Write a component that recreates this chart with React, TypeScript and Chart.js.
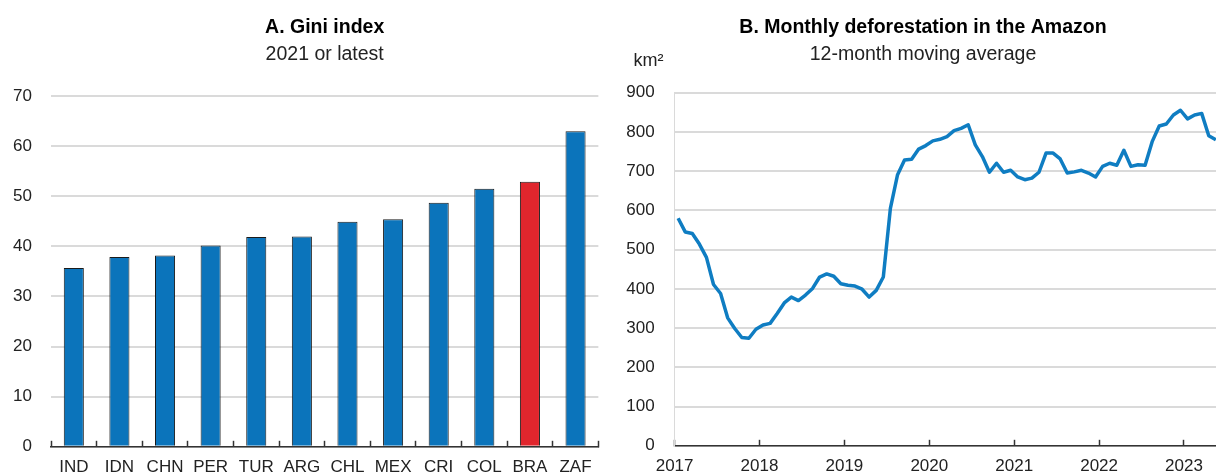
import { useEffect, useRef } from 'react';
import { Chart, registerables } from 'chart.js';

Chart.register(...registerables);

// ---------- Data ----------
const countries = ['IND', 'IDN', 'CHN', 'PER', 'TUR', 'ARG', 'CHL', 'MEX', 'CRI', 'COL', 'BRA', 'ZAF'];
const giniValues = [35.7, 37.9, 38.2, 40.2, 41.9, 42.0, 44.9, 45.4, 48.7, 51.5, 52.9, 63.0];
const highlightCountry = 'BRA';
const giniTicks = [0, 10, 20, 30, 40, 50, 60, 70];

// Monthly, Jan 2017 .. May 2023 (12-month moving average, km²)
const startYear = 2017;
const deforestation = [
  580, 545, 541, 514, 480, 411, 388, 326, 299, 276, 274, 297,
  308, 312, 337, 364, 379, 370, 384, 401, 430, 438, 432, 413,
  409, 407, 399, 379, 396, 430, 605, 690, 728, 730, 756, 765,
  777, 781, 788, 803, 809, 818, 767, 737, 697, 720, 697, 702,
  685, 678, 682, 697, 746, 746, 731, 695, 698, 702, 695, 685,
  712, 720, 715, 753, 712, 716, 715, 775, 815, 820, 843, 855,
  833, 843, 847, 790, 780,
];
const yearTicks = [2017, 2018, 2019, 2020, 2021, 2022, 2023];
const deforTicks = [0, 100, 200, 300, 400, 500, 600, 700, 800, 900];

// ---------- Styles ----------
const FONT = "'Liberation Sans', Arial, sans-serif";
const BLUE = '#0b74bb';
const RED = '#e0262d';
const GRID = '#dadada';
const AXIS = '#333333';
const TEXT = '#222222';
const TITLE_SIZE = 19.5;
const TICK_SIZE = 17;

const unitLabelPlugin = {
  id: 'unitLabel',
  afterDraw(chart: any, _args: any, opts: any) {
    if (!opts || !opts.text) return;
    const { ctx, chartArea } = chart;
    ctx.save();
    ctx.font = `18px ${FONT}`;
    ctx.fillStyle = TEXT;
    ctx.textAlign = 'center';
    ctx.textBaseline = 'middle';
    ctx.fillText(opts.text, chartArea.left + opts.dx, chartArea.top + opts.dy);
    ctx.restore();
  },
};

function GiniChart() {
  const ref = useRef<HTMLCanvasElement | null>(null);
  useEffect(() => {
    if (!ref.current) return;
    const chart = new Chart(ref.current, {
      type: 'bar',
      data: {
        labels: countries,
        datasets: [
          {
            data: giniValues,
            backgroundColor: countries.map((c) => (c === highlightCountry ? RED : BLUE)),
            borderColor: '#1b1b1b',
            borderWidth: 1,
            barPercentage: 0.44,
            categoryPercentage: 1,
          },
        ],
      },
      options: {
        animation: false,
        responsive: true,
        maintainAspectRatio: false,
        layout: { padding: { top: 0, right: 4, left: 0, bottom: 0 } },
        plugins: {
          legend: { display: false },
          tooltip: { enabled: false },
          title: {
            display: true,
            fullSize: false,
            text: 'A. Gini index',
            color: '#000',
            font: { family: FONT, size: TITLE_SIZE, weight: 'bold', lineHeight: 1.2 },
            padding: { top: 15.6, bottom: 2 },
          },
          subtitle: {
            display: true,
            fullSize: false,
            text: '2021 or latest',
            color: TEXT,
            font: { family: FONT, size: TITLE_SIZE, weight: 'normal', lineHeight: 1.2 },
            padding: { top: 2.4, bottom: 29.3 },
          },
        },
        scales: {
          x: {
            grid: {
              display: true,
              drawOnChartArea: false,
              drawTicks: true,
              tickLength: -6,
              tickColor: AXIS,
              tickWidth: 1.5,
              offset: true,
            },
            border: { display: true, color: AXIS, width: 1.5 },
            ticks: { font: { family: FONT, size: TICK_SIZE }, color: TEXT, padding: 16, maxRotation: 0, autoSkip: false },
            afterFit: (s: any) => {
              s.height = 28;
            },
          },
          y: {
            min: 0,
            max: 70,
            afterBuildTicks: (s: any) => {
              s.ticks = giniTicks.map((v) => ({ value: v }));
            },
            ticks: { font: { family: FONT, size: TICK_SIZE }, color: TEXT, padding: 19 },
            grid: { color: GRID, lineWidth: 2, drawTicks: false },
            border: { display: false },
            afterFit: (s: any) => {
              s.width = 51;
            },
          },
        },
      } as any,
    });
    return () => chart.destroy();
  }, []);
  return <canvas ref={ref} />;
}

function DeforestationChart() {
  const ref = useRef<HTMLCanvasElement | null>(null);
  useEffect(() => {
    if (!ref.current) return;
    const points = deforestation.map((v, i) => ({ x: startYear + (i + 0.5) / 12, y: v }));
    const chart = new Chart(ref.current, {
      type: 'line',
      data: {
        datasets: [
          {
            data: points,
            borderColor: '#0f7dc2',
            borderWidth: 3.5,
            pointRadius: 0,
            tension: 0,
            fill: false,
            borderJoinStyle: 'round',
          },
        ],
      },
      options: {
        animation: false,
        responsive: true,
        maintainAspectRatio: false,
        layout: { padding: { top: 0, right: 0, left: 0, bottom: 0 } },
        plugins: {
          legend: { display: false },
          tooltip: { enabled: false },
          title: {
            display: true,
            text: 'B. Monthly deforestation in the Amazon',
            color: '#000',
            font: { family: FONT, size: TITLE_SIZE, weight: 'bold', lineHeight: 1.2 },
            padding: { top: 15.6, bottom: 2 },
          },
          subtitle: {
            display: true,
            text: '12-month moving average',
            color: TEXT,
            font: { family: FONT, size: TITLE_SIZE, weight: 'normal', lineHeight: 1.2 },
            padding: { top: 2.4, bottom: 25.8 },
          },
          unitLabel: { text: 'km²', dx: -26, dy: -32 },
        },
        scales: {
          x: {
            type: 'linear',
            min: 2017,
            max: 2017 + (630 - 66.6) / 84.9,
            afterBuildTicks: (s: any) => {
              s.ticks = yearTicks.map((v) => ({ value: v }));
            },
            grid: {
              display: true,
              drawOnChartArea: false,
              drawTicks: true,
              tickLength: -6,
              tickColor: AXIS,
              tickWidth: 1.5,
            },
            border: { display: true, color: AXIS, width: 1.5 },
            ticks: {
              font: { family: FONT, size: TICK_SIZE },
              color: TEXT,
              padding: 16,
              maxRotation: 0,
              autoSkip: false,
              callback: (v: any) => String(v),
            },
            afterFit: (s: any) => {
              s.height = 28;
            },
          },
          y: {
            min: 0,
            max: 900,
            afterBuildTicks: (s: any) => {
              s.ticks = deforTicks.map((v) => ({ value: v }));
            },
            ticks: { font: { family: FONT, size: TICK_SIZE }, color: TEXT, padding: 20 },
            grid: { color: GRID, lineWidth: 2, drawTicks: false },
            border: { display: true, color: GRID, width: 1 },
            afterFit: (s: any) => {
              s.width = 66.6;
            },
          },
        },
      } as any,
      plugins: [unitLabelPlugin],
    });
    return () => chart.destroy();
  }, []);
  return <canvas ref={ref} />;
}

export default function App() {
  return (
    <div
      style={{
        position: 'absolute',
        left: 0,
        top: 0,
        width: 1216,
        height: 476,
        overflow: 'hidden',
        background: '#fff',
      }}
    >
      <div style={{ position: 'absolute', left: 0, top: 0, width: 608, height: 476 }}>
        <GiniChart />
      </div>
      <div style={{ position: 'absolute', left: 608, top: 0, width: 630, height: 476 }}>
        <DeforestationChart />
      </div>
    </div>
  );
}
